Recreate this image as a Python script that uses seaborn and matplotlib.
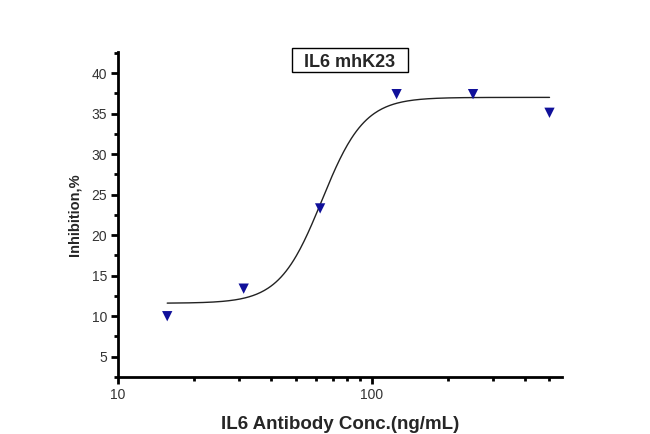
import numpy as np
import pandas as pd
import matplotlib
matplotlib.use("Agg")
import matplotlib.pyplot as plt
import seaborn as sns
from matplotlib.patches import Rectangle
from matplotlib.ticker import LogLocator, MultipleLocator, FixedLocator, FixedFormatter, NullFormatter

# Data
conc = [15.625, 31.25, 62.5, 125, 250, 500]
inhibition = [10.0, 13.4, 23.3, 37.4, 37.4, 35.1]

# Four-parameter logistic fit parameters
fit_bottom = 11.6
fit_top = 37.0
fit_ec50 = 63.5
fit_hill = 5.2

title_text = "IL6 mhK23"
x_label = "IL6 Antibody Conc.(ng/mL)"
y_label = "Inhibition,%"
x_tick_values = [10, 100]
x_tick_labels = ["10", "100"]

sns.set_style("ticks")
plt.rcParams["font.family"] = ["Liberation Sans", "DejaVu Sans"]

fig = plt.figure(figsize=(6.5, 4.34), dpi=100)
ax = fig.add_axes([118 / 650, 57 / 434, 444 / 650, 325 / 434])

xfit = np.logspace(np.log10(conc[0]), np.log10(conc[-1]), 300)
yfit = fit_bottom + (fit_top - fit_bottom) / (1 + (fit_ec50 / xfit) ** fit_hill)
curve = pd.DataFrame({"x": xfit, "y": yfit})
points = pd.DataFrame({"x": conc, "y": inhibition})

sns.lineplot(data=curve, x="x", y="y", ax=ax, color="#222222", lw=1.0, zorder=2)
sns.scatterplot(data=points, x="x", y="y", ax=ax, marker="v", s=55,
                color="#10109a", edgecolor="none", zorder=3)

ax.set_xscale("log")
ax.set_xlim(10, 560)
ax.set_ylim(2.5, 42.6)

ax.xaxis.set_major_locator(FixedLocator(x_tick_values))
ax.xaxis.set_major_formatter(FixedFormatter(x_tick_labels))
ax.xaxis.set_minor_locator(LogLocator(base=10, subs=np.arange(2, 10)))
ax.xaxis.set_minor_formatter(NullFormatter())
ax.yaxis.set_major_locator(MultipleLocator(5))
ax.yaxis.set_minor_locator(MultipleLocator(2.5))
ax.set_yticks([5, 10, 15, 20, 25, 30, 35, 40])

for side in ["top", "right"]:
    ax.spines[side].set_visible(False)
for side in ["left", "bottom"]:
    ax.spines[side].set_linewidth(2.0)
    ax.spines[side].set_color("black")

ax.tick_params(axis="both", which="major", direction="out", length=5, width=2,
               color="black", labelsize=10, labelcolor="#333333", pad=3)
ax.tick_params(axis="both", which="minor", direction="out", length=3, width=2,
               color="black")

ax.set_xlabel(x_label, fontsize=13.5, fontweight="bold", labelpad=10)
ax.set_ylabel(y_label, fontsize=10.5, fontweight="bold", labelpad=7)

ax.add_patch(Rectangle((0.392, 0.938), 0.261, 0.074, transform=ax.transAxes,
                       facecolor="white", edgecolor="black", lw=1.0,
                       clip_on=False, zorder=4))
ax.text(0.5225, 0.954, title_text, transform=ax.transAxes, ha="center", va="baseline",
        fontsize=13, fontweight="bold", zorder=5)

fig.savefig("out.png", dpi=100)
